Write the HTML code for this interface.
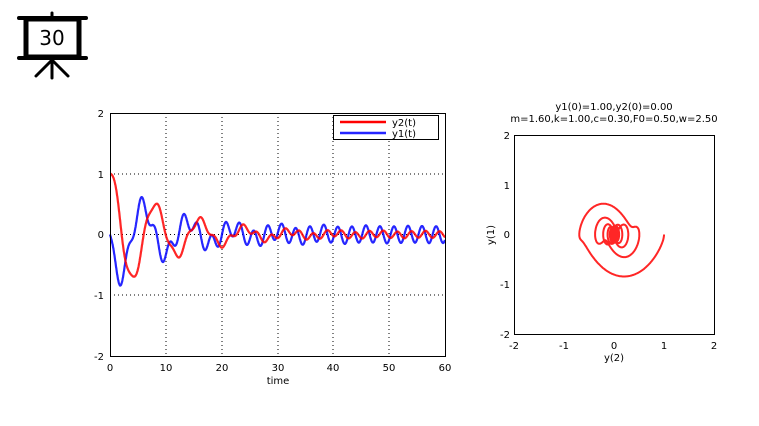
<!DOCTYPE html>
<html><head><meta charset="utf-8"><style>
body{margin:0;background:#fff;width:759px;height:426px;overflow:hidden}
svg{display:block}
text{font-family:"DejaVu Sans","Liberation Sans",sans-serif;font-size:10px;fill:#000}
</style></head><body>
<svg id="s" width="759" height="426" xmlns="http://www.w3.org/2000/svg">
<!-- logo -->
<g stroke="#000" fill="none" stroke-linecap="round">
<line x1="19" y1="18" x2="86" y2="18" stroke-width="4"/>
<line x1="52" y1="13" x2="52" y2="18" stroke-width="3"/>
<rect x="26" y="19" width="53" height="38" stroke-width="5"/>
<line x1="19" y1="58" x2="86" y2="58" stroke-width="4"/>
<line x1="52" y1="58" x2="52" y2="78" stroke-width="3"/>
<line x1="52" y1="60" x2="36" y2="76" stroke-width="3"/>
<line x1="52" y1="60" x2="68" y2="76" stroke-width="3"/>
</g>
<text x="52" y="45" text-anchor="middle" style="font-size:20px">30</text>
<!-- left plot -->
<g stroke="#000" stroke-dasharray="1,3" stroke-width="1">
<line x1="166" y1="113" x2="166" y2="356"/><line x1="222" y1="113" x2="222" y2="356"/>
<line x1="278" y1="113" x2="278" y2="356"/><line x1="333" y1="113" x2="333" y2="356"/>
<line x1="389" y1="113" x2="389" y2="356"/>
<line x1="110" y1="174" x2="445" y2="174"/><line x1="110" y1="234.5" x2="445" y2="234.5"/>
<line x1="110" y1="295" x2="445" y2="295"/>
</g>
<g id="left"></g>
<rect x="110.5" y="113.5" width="335" height="243" fill="none" stroke="#000"/>
<rect x="333.5" y="115.5" width="105" height="24" fill="#fff" stroke="#000"/>
<line x1="340" y1="122" x2="386" y2="122" stroke="#f00" stroke-width="2.5"/>
<line x1="340" y1="133" x2="386" y2="133" stroke="#00f" stroke-width="2.5" opacity="0.85"/>
<text x="392" y="126">y2(t)</text><text x="392" y="137">y1(t)</text>
<g text-anchor="end"><text x="104" y="117">2</text><text x="104" y="178">1</text><text x="104" y="238">0</text><text x="104" y="299">-1</text><text x="104" y="360">-2</text></g>
<g text-anchor="middle"><text x="110" y="371">0</text><text x="166" y="371">10</text><text x="222" y="371">20</text><text x="278" y="371">30</text><text x="333" y="371">40</text><text x="389" y="371">50</text><text x="445" y="371">60</text>
<text x="278" y="384">time</text></g>
<!-- right plot -->
<g id="right"></g>
<rect x="514.5" y="135.5" width="200" height="199" fill="none" stroke="#000"/>
<g text-anchor="middle"><text x="614" y="110">y1(0)=1.00,y2(0)=0.00</text><text x="614" y="122">m=1.60,k=1.00,c=0.30,F0=0.50,w=2.50</text>
<text x="514" y="349">-2</text><text x="564" y="349">-1</text><text x="614" y="349">0</text><text x="664" y="349">1</text><text x="714" y="349">2</text>
<text x="614" y="361">y(2)</text></g>
<g text-anchor="end"><text x="510" y="139">2</text><text x="510" y="189">1</text><text x="510" y="238">0</text><text x="510" y="288">-1</text><text x="510" y="338">-2</text></g>
<text transform="translate(494,235) rotate(-90)" text-anchor="middle">y(1)</text>
</svg>
<script>
var m=1.6,k=1,c=0.3,F=0.5,w=2.5;
function f(t,x,v){return [v,(-c*v-k*x+F*Math.cos(w*t))/m];}
var x=1,v=0,t=0,h=0.01,X=[],V=[],T=[];
while(t<=60.0001){T.push(t);X.push(x);V.push(v);
var a=f(t,x,v),b=f(t+h/2,x+h/2*a[0],v+h/2*a[1]),cc=f(t+h/2,x+h/2*b[0],v+h/2*b[1]),d=f(t+h,x+h*cc[0],v+h*cc[1]);
x+=h/6*(a[0]+2*b[0]+2*cc[0]+d[0]);v+=h/6*(a[1]+2*b[1]+2*cc[1]+d[1]);t+=h;}
var pr="",pb="",pp="";
for(var i=0;i<T.length;i+=2){var px=110+T[i]*335/60;
pr+=(i?"L":"M")+px.toFixed(1)+","+(234.5-X[i]*60.75).toFixed(1);
pb+=(i?"L":"M")+px.toFixed(1)+","+(234.5-V[i]*60.75).toFixed(1);
pp+=(i?"L":"M")+(614+X[i]*50).toFixed(1)+","+(234.5-V[i]*50).toFixed(1);}
document.getElementById("left").innerHTML='<path d="'+pb+'" fill="none" stroke="#00f" stroke-width="2.2" opacity="0.85"/><path d="'+pr+'" fill="none" stroke="#f00" stroke-width="2.2" opacity="0.85"/>';
document.getElementById("right").innerHTML='<path d="'+pp+'" fill="none" stroke="#f00" stroke-width="2" opacity="0.85"/>';
</script>
</body></html>
